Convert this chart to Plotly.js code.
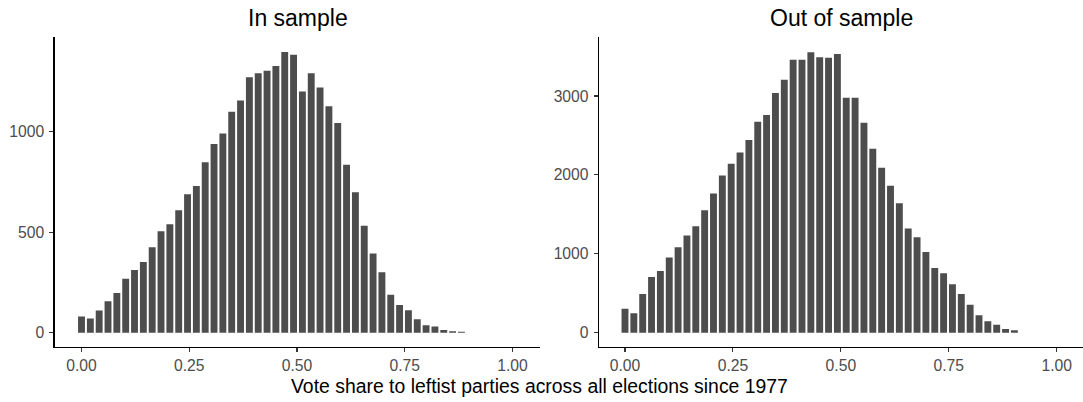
<!DOCTYPE html>
<html>
<head>
<meta charset="utf-8">
<script src="https://cdn.plot.ly/plotly-3.0.1.min.js"></script>
<style>
  html, body { margin: 0; padding: 0; background: #ffffff; }
  #chart { width: 1083px; height: 402px; }
</style>
</head>
<body>
<div id="chart"></div>
<script>
// Histogram bin layout (shared by both panels)
const binStart = 0;
const binWidth = 0.0205;

// Counts per bin, in-sample predictions
const inSampleCounts = [
  80, 70, 110, 156, 198, 268, 312, 352, 425, 505,
  540, 610, 690, 731, 849, 940, 992, 1100, 1156, 1272,
  1292, 1305, 1328, 1398, 1384, 1201, 1292, 1221, 1128, 1045,
  836, 700, 532, 394, 301, 189, 138, 112, 67, 37,
  30, 13, 7, 5
];

// Counts per bin, out-of-sample predictions
const outSampleCounts = [
  305, 246, 491, 707, 783, 952, 1084, 1231, 1350, 1553,
  1764, 1992, 2141, 2284, 2442, 2674, 2759, 3038, 3207, 3461,
  3461, 3553, 3490, 3486, 3533, 2978, 2978, 2661, 2331, 2090,
  1862, 1642, 1320, 1211, 1024, 821, 754, 614, 491, 355,
  221, 145, 102, 47, 30
];

const panelTitles = ['In sample', 'Out of sample'];
const xTitle = 'Vote share to leftist parties across all elections since 1977';
const xTickVals = [0, 0.25, 0.5, 0.75, 1];
const inYTicks = [0, 500, 1000];
const outYTicks = [0, 1000, 2000, 3000];

const FONT = 'Liberation Sans, Arial, Helvetica, sans-serif';
const BAR = '#4D4D4D';

const traces = [
  {
    type: 'bar', x0: binStart, dx: binWidth, y: inSampleCounts,
    xaxis: 'x', yaxis: 'y',
    marker: { color: BAR, line: { width: 0 } },
    hoverinfo: 'x+y', showlegend: false
  },
  {
    type: 'bar', x0: binStart, dx: binWidth, y: outSampleCounts,
    xaxis: 'x2', yaxis: 'y2',
    marker: { color: BAR, line: { width: 0 } },
    hoverinfo: 'x+y', showlegend: false
  }
];

const tickFont = { family: FONT, size: 15.7, color: '#4D4D4D' };

function xAxis(domain, range, anchor) {
  return {
    domain: domain, range: range, anchor: anchor,
    tickvals: xTickVals, tickformat: '.2f',
    showgrid: false, zeroline: false,
    showline: true, linecolor: '#000000', linewidth: 1.6,
    ticks: 'outside', ticklen: 4, tickwidth: 1.1, tickcolor: '#333333',
    tickfont: tickFont, fixedrange: true
  };
}
function yAxis(range, ticks, anchor) {
  return {
    domain: [0.1376, 0.908], range: range, anchor: anchor,
    tickvals: ticks,
    showgrid: false, zeroline: false,
    showline: true, linecolor: '#000000', linewidth: 1.6,
    ticks: 'outside', ticklen: 4, tickwidth: 1.1, tickcolor: '#333333',
    ticklabelstandoff: 2,
    tickfont: tickFont, fixedrange: true
  };
}

const leftDomain = [55 / 1083, 540 / 1083];
const rightDomain = [599.3 / 1083, 1];

const layout = {
  width: 1083, height: 402,
  margin: { l: 0, r: 0, t: 0, b: 0 },
  paper_bgcolor: '#ffffff', plot_bgcolor: '#ffffff',
  bargap: 0.22,
  font: { family: FONT },
  xaxis: xAxis(leftDomain, [-0.0615, 1.0638], 'y'),
  yaxis: yAxis([-70, 1473], inYTicks, 'x'),
  xaxis2: xAxis(rightDomain, [-0.0595, 1.0609], 'y2'),
  yaxis2: yAxis([-177, 3748], outYTicks, 'x2'),
  annotations: [
    {
      text: panelTitles[0], xref: 'paper', yref: 'paper',
      x: (leftDomain[0] + leftDomain[1]) / 2, y: 0.954,
      xanchor: 'center', yanchor: 'middle', showarrow: false,
      font: { family: FONT, size: 23, color: '#000000' }
    },
    {
      text: panelTitles[1], xref: 'paper', yref: 'paper',
      x: (rightDomain[0] + rightDomain[1]) / 2, y: 0.954,
      xanchor: 'center', yanchor: 'middle', showarrow: false,
      font: { family: FONT, size: 23, color: '#000000' }
    },
    {
      text: xTitle, xref: 'paper', yref: 'paper',
      x: 0.4985, y: 0.0386,
      xanchor: 'center', yanchor: 'middle', showarrow: false,
      font: { family: FONT, size: 19.4, color: '#000000' }
    }
  ]
};

Plotly.newPlot('chart', traces, layout, { displayModeBar: false, staticPlot: true });
</script>
</body>
</html>
